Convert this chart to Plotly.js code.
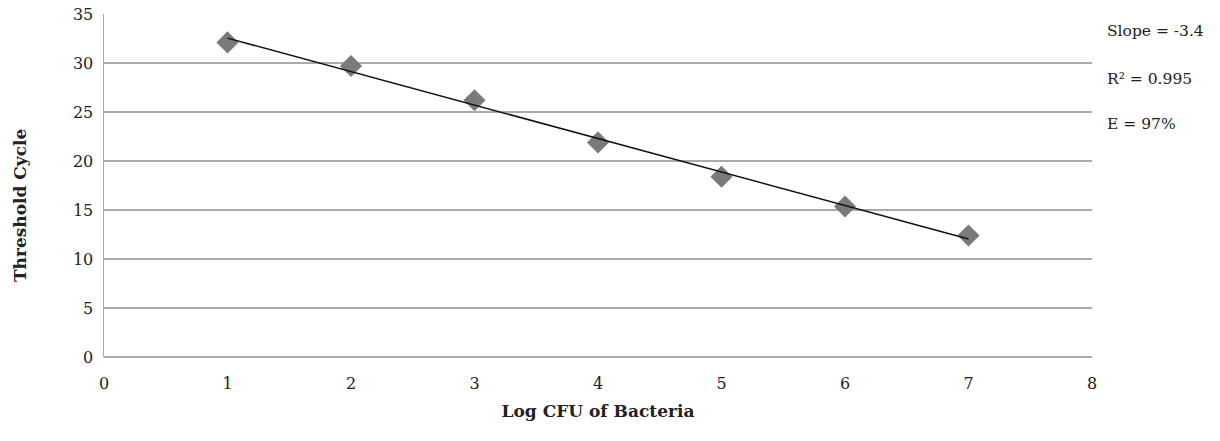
<!DOCTYPE html>
<html><head><meta charset="utf-8">
<script src="https://cdn.plot.ly/plotly-3.0.1.min.js"></script>
<style>html,body{margin:0;padding:0;background:#fff}</style>
</head><body>
<div id="chart" style="width:1220px;height:441px"></div>
<script>
const logCFU = [1, 2, 3, 4, 5, 6, 7];
const thresholdCycle = [32.1, 29.7, 26.2, 21.9, 18.4, 15.35, 12.4];
const statLabels = ["Slope = -3.4", "R\u00b2 = 0.995", "E = 97%"];
const yTitle = "Threshold Cycle";
const xTitle = "Log CFU of Bacteria";

// least-squares trend line from the data
const n = logCFU.length;
const mx = logCFU.reduce((a,b)=>a+b,0)/n;
const my = thresholdCycle.reduce((a,b)=>a+b,0)/n;
let sxy = 0, sxx = 0;
for (let i=0;i<n;i++){ sxy += (logCFU[i]-mx)*(thresholdCycle[i]-my); sxx += (logCFU[i]-mx)**2; }
const slope = sxy/sxx, icpt = my - slope*mx;
const trendX = [logCFU[0], logCFU[n-1]];
const trendY = trendX.map(x => icpt + slope*x);

const font = "DejaVu Serif, Liberation Serif, serif";
const data = [
  {x: logCFU, y: thresholdCycle, type: 'scatter', mode: 'markers',
   marker: {symbol: 'diamond', size: 17, color: '#7a7a7a'}, showlegend: false},
  {x: trendX, y: trendY, type: 'scatter', mode: 'lines',
   line: {color: '#111', width: 1.5}, showlegend: false}
];
const annotations = statLabels.map((t, i) => ({
  text: t, xref: 'paper', yref: 'paper', x: 1.0135, y: [0.95, 0.81, 0.68][i],
  xanchor: 'left', yanchor: 'middle', showarrow: false, font: {size: 15.5, color: '#222'}
}));
annotations.push({
  text: '<b>' + yTitle + '</b>', xref: 'paper', yref: 'paper', x: -0.085, y: 0.443,
  xanchor: 'center', yanchor: 'middle', textangle: -90, showarrow: false,
  font: {size: 17, color: '#222'}
});
const layout = {
  width: 1220, height: 441,
  margin: {l: 104, r: 128, t: 14, b: 84},
  paper_bgcolor: '#fff', plot_bgcolor: '#fff',
  font: {family: font, color: '#222', size: 16},
  xaxis: {range: [0, 8], dtick: 1, showgrid: false, zeroline: false,
          showline: false, ticks: '', ticklen: 0, tickfont: {size: 16},
          ticklabelstandoff: 15,
          title: {text: '<b>' + xTitle + '</b>', font: {size: 17}, standoff: 13}},
  yaxis: {range: [0, 35], dtick: 5, showgrid: true, gridcolor: '#aaa', gridwidth: 1.5,
          zeroline: true, zerolinecolor: '#aaa', zerolinewidth: 1.5,
          showline: true, linecolor: '#aaa', linewidth: 1.5, ticks: '', ticklen: 0,
          tickfont: {size: 16}, ticklabelstandoff: 6},
  annotations: annotations
};
Plotly.newPlot('chart', data, layout, {displayModeBar: false, staticPlot: true});
</script>
</body></html>
